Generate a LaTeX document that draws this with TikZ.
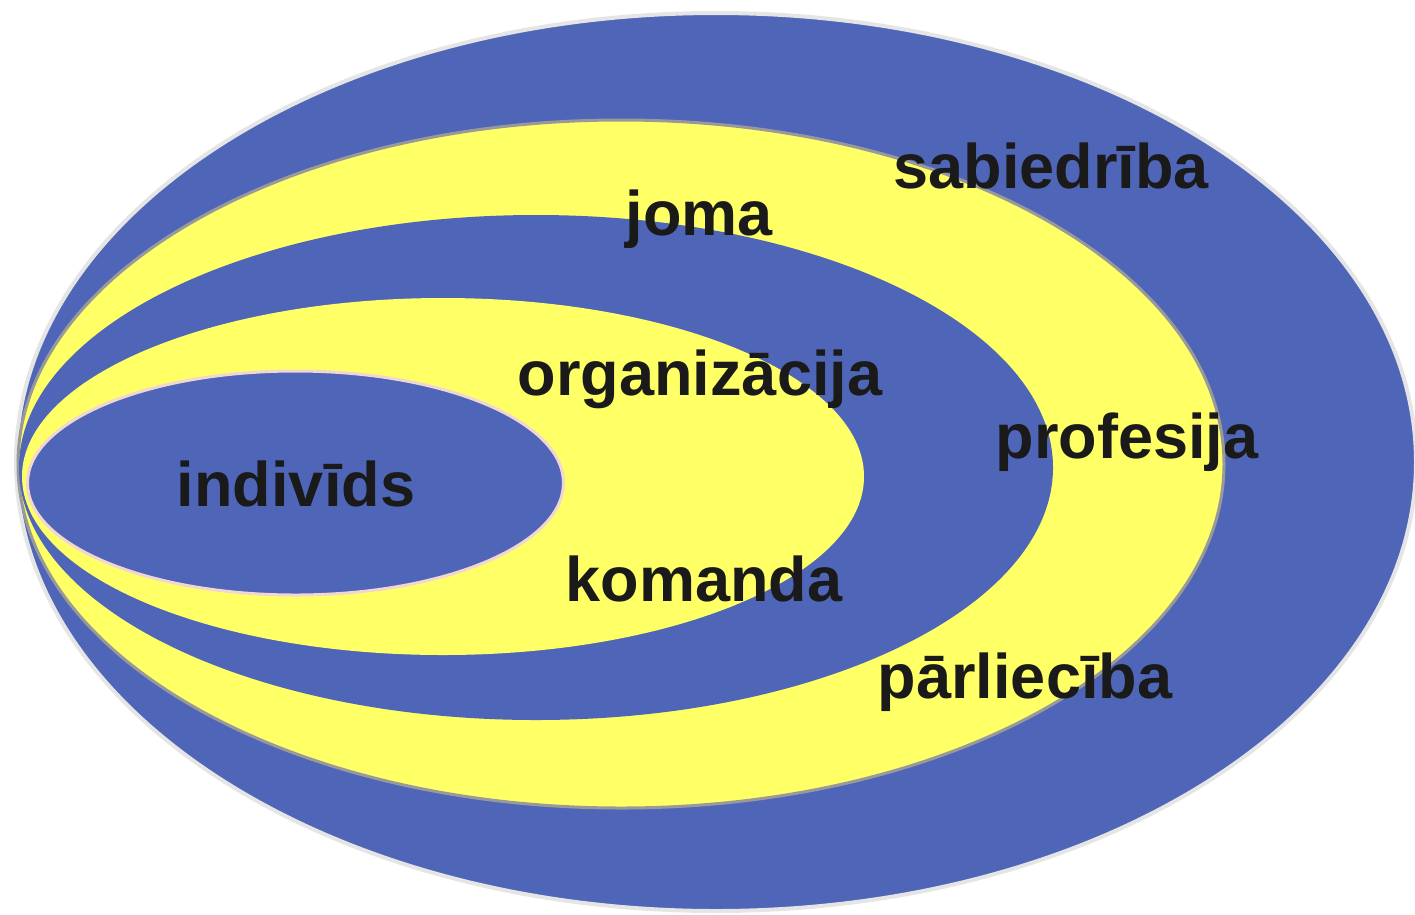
\documentclass[tikz,border=0pt]{standalone}
\usepackage{fontspec}
\setmainfont{Liberation Sans}
\definecolor{ringblue}{HTML}{4F66B8}
\definecolor{ringyellow}{HTML}{FFFF66}
\definecolor{labelgray}{HTML}{1A1A1A}
\tikzset{
  lvl/.style={font=\fontsize{63}{70}\selectfont\bfseries, text=labelgray, anchor=base, inner sep=0pt}
}
\begin{document}
\begin{tikzpicture}[x=1pt, y=-1pt]
			\useasboundingbox (0,0) rectangle (1415,914);
			% centres of the rings
			\coordinate (S) at (716,462);
			\coordinate (J) at (621,464);
			\coordinate (O) at (536,467.5);
			\coordinate (K) at (443,476.5);
			\coordinate (I) at (295.5,483);
			% rings, outside to inside
			\filldraw[fill=ringblue, draw=gray!20, line width=4pt]
			(S) ellipse [x radius=700pt, y radius=449pt];
			\filldraw[fill=ringyellow, draw=gray!80, line width=3pt]
			(J) ellipse [x radius=603pt, y radius=344pt];
			\fill[ringblue]
			(O) ellipse [x radius=517pt, y radius=252.5pt];
			\fill[ringyellow]
			(K) ellipse [x radius=421pt, y radius=178.5pt];
			\filldraw[fill=ringblue, draw={rgb,255:red,242;green,214;blue,210}, line width=3pt]
			(I) ellipse [x radius=268pt, y radius=112pt];
			% labels
			\node[lvl] (sab) at (1051,188) {sabiedrība};
			\node[lvl] (jom) at (699,235) {joma};
			\node[lvl] (org) at (700,395) {organizācija};
			\node[lvl] (pro) at (1127,458) {profesija};
			\node[lvl] (ind) at (296,506) {indivīds};
			\node[lvl] (kom) at (704,601) {komanda};
			\node[lvl] (par) at (1025,698) {pārliecība};
		\end{tikzpicture}
\end{document}
